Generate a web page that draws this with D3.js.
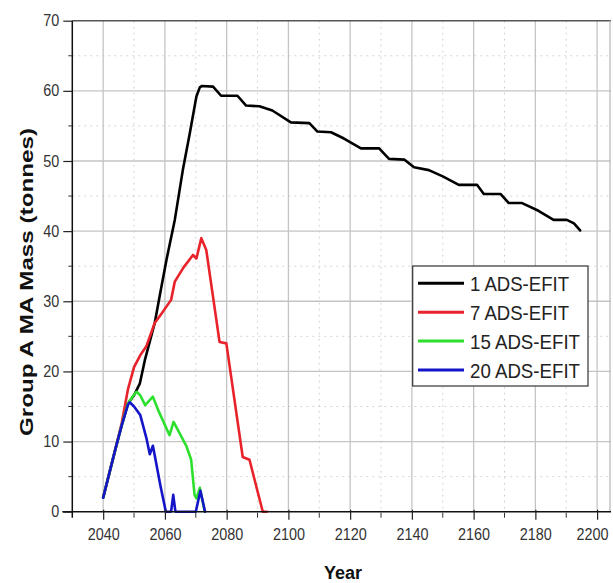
<!DOCTYPE html>
<html>
<head>
<meta charset="utf-8">
<script src="https://cdn.jsdelivr.net/npm/d3@7/dist/d3.min.js"></script>
<style>
html,body{margin:0;padding:0;background:#fff;}
svg{display:block;}
</style>
</head>
<body>
<svg id="chart" width="613" height="583"></svg>
<script>
// ---- data ----
const seriesNames = ["1 ADS-EFIT", "7 ADS-EFIT", "15 ADS-EFIT", "20 ADS-EFIT"];
const seriesColors = ["#000000", "#e8232b", "#2ee02e", "#1414c8"];

const ads1 = [[2040,2.0],[2042,5.5],[2044,9.0],[2046,12.3],[2048,15.4],[2050,16.6],[2051.9,18.3],[2053.5,21.6],[2056.7,26.9],
  [2058.5,31.2],[2060.5,35.9],[2063.2,41.6],[2065.8,48.7],[2068,53.8],[2070.2,59.2],[2071.3,60.5],[2072,60.7],[2075.6,60.6],
  [2078.2,59.3],[2083.5,59.3],[2086.3,57.9],[2090.6,57.8],[2094.8,57.2],[2100.8,55.5],[2106.8,55.4],[2109.4,54.2],
  [2113.8,54.1],[2118,53.2],[2123.5,51.8],[2129.4,51.8],[2132.6,50.3],[2137.5,50.2],[2140.7,49.1],[2145.5,48.7],
  [2150,47.8],[2155.2,46.6],[2161.1,46.6],[2163.3,45.3],[2168.7,45.3],[2171.4,44.0],[2175.7,44.0],[2181,42.9],
  [2185.9,41.6],[2190.2,41.6],[2192.5,41.1],[2194.5,40.1]];

const ads7 = [[2040,2.0],[2042,5.5],[2044,9.0],[2046,12.6],[2048,17.4],[2050,20.6],[2052,22.3],[2054,23.6],
  [2056.7,26.9],[2059,28.3],[2062,30.2],[2063.2,32.8],[2066,34.8],[2069.1,36.6],[2070.2,36.1],[2071.8,39.0],
  [2073.4,37.3],[2077.7,24.2],[2079.9,24.0],[2085.2,7.8],[2087.4,7.4],[2091.7,0],[2093,0]];

const ads15 = [[2040,2.0],[2042,5.5],[2044,9.0],[2046,12.3],[2048,15.4],[2049.5,16.4],[2050.8,17.1],[2052,16.6],
  [2053.6,15.2],[2056.1,16.4],[2058,14.3],[2061.5,10.9],[2062.8,12.8],[2065,11.0],[2067,9.3],[2068.5,7.4],
  [2069.6,2.4],[2070.2,1.9],[2071.3,3.4],[2072.9,0]];

const ads20 = [[2040,2.0],[2042,5.5],[2044,9.0],[2046,12.3],[2048,15.2],[2048.6,15.6],[2050,15.0],[2052,13.8],
  [2054,10.5],[2055.1,8.2],[2056.1,9.4],[2056.8,7.8],[2058.5,3.8],[2060.3,0],[2062,0],[2062.7,2.4],[2063.4,0],
  [2070,0],[2071.5,3.0],[2073,0]];

const xMajorTicks = [2040, 2060, 2080, 2100, 2120, 2140, 2160, 2180, 2200];
const xMinorTicks = [2050, 2070, 2090, 2110, 2130, 2150, 2170, 2190];
const yMajorTicks = [0, 10, 20, 30, 40, 50, 60, 70];
const yMinorTicks = [5, 15, 25, 35, 45, 55, 65];
const xTitle = "Year";
const yTitle = "Group A MA Mass (tonnes)";

// ---- drawing ----
const svg = d3.select("#chart");
const sans = "'Liberation Sans',Arial,sans-serif";

const x = d3.scaleLinear().domain([2030, 2204.5]).range([72.3, 611]);
const y = d3.scaleLinear().domain([0, 70]).range([511.7, 20.7]);
const [x0, x1] = x.range();
const [yb, yt] = y.range();

// minor dotted grid
const grid = svg.append("g");
grid.selectAll("line.xm").data(xMinorTicks).join("line")
  .attr("x1", d => x(d)).attr("x2", d => x(d)).attr("y1", yt).attr("y2", yb)
  .attr("stroke", "#d4d4d4").attr("stroke-width", 1).attr("stroke-dasharray", "2,4");
grid.selectAll("line.ym").data(yMinorTicks).join("line")
  .attr("y1", d => y(d)).attr("y2", d => y(d)).attr("x1", x0).attr("x2", x1)
  .attr("stroke", "#d4d4d4").attr("stroke-width", 1).attr("stroke-dasharray", "2,4");
// major grid
grid.selectAll("line.xM").data(xMajorTicks).join("line")
  .attr("x1", d => x(d)).attr("x2", d => x(d)).attr("y1", yt).attr("y2", yb)
  .attr("stroke", "#c4c4c4").attr("stroke-width", 1.3);
grid.selectAll("line.yM").data(yMajorTicks.filter(d => d > 0 && d < 70)).join("line")
  .attr("y1", d => y(d)).attr("y2", d => y(d)).attr("x1", x0).attr("x2", x1)
  .attr("stroke", "#c4c4c4").attr("stroke-width", 1.3);
// frame top/right
svg.append("line").attr("x1", x0).attr("x2", x1).attr("y1", yt).attr("y2", yt)
  .attr("stroke", "#555").attr("stroke-width", 1.6);
svg.append("line").attr("x1", x1 - 1).attr("x2", x1 - 1).attr("y1", yt).attr("y2", yb)
  .attr("stroke", "#bbb").attr("stroke-width", 1.3);

// series lines
const line = d3.line().x(d => x(d[0])).y(d => y(d[1]));
const allSeries = [ads1, ads7, ads15, ads20];
svg.append("g").selectAll("path").data(allSeries).join("path")
  .attr("d", d => line(d))
  .attr("fill", "none")
  .attr("stroke", (d, i) => seriesColors[i])
  .attr("stroke-width", 2.6)
  .attr("stroke-linejoin", "round")
  .attr("stroke-linecap", "round");

// axes
const xAxis = svg.append("g").attr("transform", `translate(0,${yb})`)
  .call(d3.axisBottom(x).tickValues(xMajorTicks).tickSize(8).tickPadding(9).tickFormat(d3.format("d")));
xAxis.select(".domain").attr("d", `M${x0 - 10},0H${x1}`).attr("stroke", "#111").attr("stroke-width", 1.5);
xAxis.selectAll(".tick line").attr("stroke", "#222").attr("y1", -2).attr("stroke-width", 1.2);
xAxis.selectAll(".tick text").attr("font-family", sans).attr("font-size", 16).attr("fill", "#333")
  .attr("textLength", 32).attr("lengthAdjust", "spacingAndGlyphs");
xAxis.selectAll(".tick").filter(d => d === 2200).select("text")
  .attr("text-anchor", "end").attr("x", 608 - x(2200));
xAxis.append("g").selectAll("line").data(xMinorTicks).join("line")
  .attr("x1", d => x(d)).attr("x2", d => x(d)).attr("y1", 1).attr("y2", 6)
  .attr("stroke", "#333").attr("stroke-width", 1);

const yAxis = svg.append("g").attr("transform", `translate(${x0},0)`)
  .call(d3.axisLeft(y).tickValues(yMajorTicks).tickSize(9).tickPadding(4).tickFormat(d3.format("d")));
yAxis.select(".domain").attr("d", `M0,${yt}V${yb + 6}`).attr("stroke", "#111").attr("stroke-width", 1.5);
yAxis.selectAll(".tick line").attr("stroke", "#222").attr("stroke-width", 1.2);
yAxis.selectAll(".tick text").attr("font-family", sans).attr("font-size", 16).attr("fill", "#333")
  .attr("textLength", d => d === 0 ? 8 : 16).attr("lengthAdjust", "spacingAndGlyphs");
yAxis.append("g").selectAll("line").data(yMinorTicks).join("line")
  .attr("y1", d => y(d)).attr("y2", d => y(d)).attr("x1", -4).attr("x2", 0)
  .attr("stroke", "#333").attr("stroke-width", 1);

// titles
svg.append("text").attr("x", 343).attr("y", 579).attr("text-anchor", "middle")
  .attr("font-family", sans).attr("font-weight", "bold").attr("font-size", 18).attr("fill", "#111")
  .text(xTitle);
svg.append("text").attr("transform", "translate(33,282) rotate(-90)").attr("text-anchor", "middle")
  .attr("font-family", sans).attr("font-weight", "bold").attr("font-size", 19).attr("fill", "#111")
  .attr("textLength", 308).attr("lengthAdjust", "spacingAndGlyphs")
  .text(yTitle);

// legend
const lg = svg.append("g");
lg.append("rect").attr("x", 412.7).attr("y", 266).attr("width", 175.3).attr("height", 120)
  .attr("fill", "#fff").attr("stroke", "#333").attr("stroke-width", 1.2);
const rowY = [283.3, 312.3, 341, 370];
const items = lg.selectAll("g.item").data(seriesNames).join("g")
  .attr("transform", (d, i) => `translate(0,${rowY[i]})`);
items.append("line").attr("x1", 418).attr("x2", 464).attr("y1", 0).attr("y2", 0)
  .attr("stroke", (d, i) => seriesColors[i]).attr("stroke-width", 3);
items.append("text").attr("x", 470).attr("y", 8)
  .attr("font-family", sans).attr("font-size", 21).attr("fill", "#222")
  .attr("textLength", (d, i) => i < 2 ? 99 : 110).attr("lengthAdjust", "spacingAndGlyphs")
  .text(d => d);
</script>
</body>
</html>
